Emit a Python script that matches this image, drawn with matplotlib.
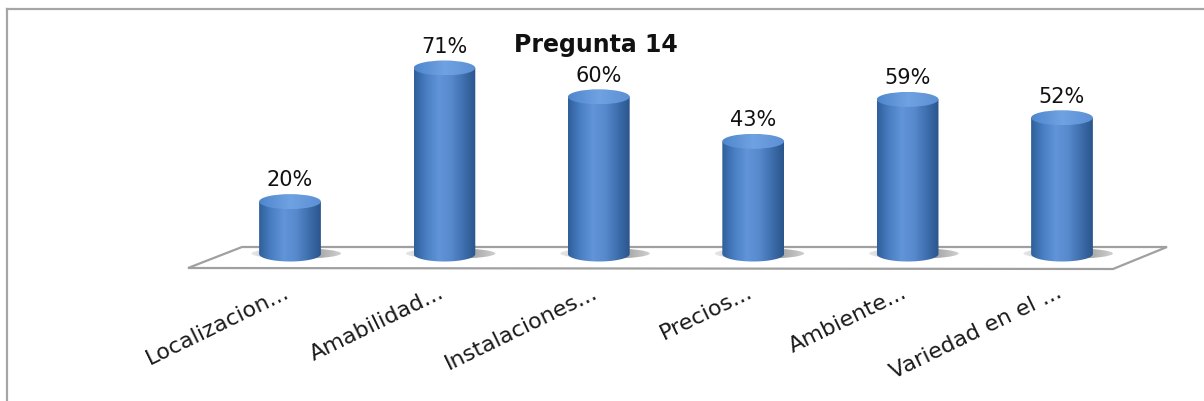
#!/usr/bin/env python3

import numpy as np
import matplotlib.pyplot as plt
from matplotlib.patches import Ellipse, Polygon
from matplotlib.lines import Line2D
from matplotlib.colors import LinearSegmentedColormap

categorias = ['Localizacion...', 'Amabilidad...', 'Instalaciones...',
              'Precios...', 'Ambiente...', 'Variedad en el ...']
valores = [20, 71, 60, 43, 59, 52]
titulo = 'Pregunta 14'

W, H = 1204, 402
fig = plt.figure(figsize=(W / 100, H / 100), dpi=100)

# ejes: centros de las barras en x ~ 290 + 154.4*i px, y=0 en 255 px
x0, dx = 290, 154.4
y0, py = 255, 2.62
ymax = 80
ymin = -8
left = (x0 - dx / 2) / W
width = 6 * dx / W
bottom = (H - y0 + ymin * py) / H
height = (ymax - ymin) * py / H
ax = fig.add_axes([left, bottom, width, height])
ax.axis('off')
ax.set_zorder(2)


def px(x, y):
    # pixeles (origen arriba-izquierda) a coordenadas de figura
    return (x / W, 1 - y / H)


# marco exterior (solo arriba e izquierda)
fig.add_artist(Line2D([7 / W, 1], [1 - 9.5 / H, 1 - 9.5 / H],
                      transform=fig.transFigure, color='#a6a6a6', lw=1.6))
fig.add_artist(Line2D([7 / W, 7 / W], [1 - 9.5 / H, 0],
                      transform=fig.transFigure, color='#a6a6a6', lw=1.6))

# piso en perspectiva
piso = Polygon([px(188, 269), px(242, 248), px(1167, 248), px(1113, 270)],
               closed=True, transform=fig.transFigure, facecolor='white',
               edgecolor='#a0a0a0', lw=1.6, zorder=1)
fig.add_artist(piso)

cmap_body = LinearSegmentedColormap.from_list(
    'cuerpo', ['#2f5f9a', '#4a7fc4', '#6194d8', '#5789cd', '#3f6fae', '#2a558c'])
cmap_top = LinearSegmentedColormap.from_list(
    'tapa', ['#4f86cc', '#6fa2e2', '#5c90d4'])
cmap_sombra = LinearSegmentedColormap.from_list(
    'sombra', ['#e6e6e6', '#c8c8c8', '#9a9a9a', '#d0d0d0'])

r = 0.20          # radio en unidades de x
eh = 15 / py      # alto de la elipse en unidades de y
grad = np.linspace(0, 1, 256).reshape(1, -1)

for i, v in enumerate(valores):
    # sombra en la base
    sombra = Ellipse((i + 0.04, 0.2), 2 * r * 1.45, eh * 0.7,
                     facecolor='none', edgecolor='none', zorder=2)
    ax.add_patch(sombra)
    ims = ax.imshow(grad, cmap=cmap_sombra, aspect='auto', zorder=2,
                    extent=(i - 1.45 * r + 0.04, i + 1.45 * r + 0.04, -eh, eh),
                    interpolation='bilinear')
    ims.set_clip_path(sombra)
    # cuerpo del cilindro
    t = np.linspace(np.pi, 2 * np.pi, 60)
    arco = np.column_stack([i + r * np.cos(t), eh / 2 * np.sin(t)])
    pts = np.vstack([[i - r, v], arco, [i + r, v]])
    cuerpo = Polygon(pts, closed=True, facecolor='none', edgecolor='none',
                     zorder=3)
    ax.add_patch(cuerpo)
    im = ax.imshow(grad, cmap=cmap_body, aspect='auto', zorder=3,
                   extent=(i - r, i + r, -eh, v + eh), interpolation='bilinear')
    im.set_clip_path(cuerpo)
    # tapa
    tapa = Ellipse((i, v), 2 * r, eh, facecolor='none', edgecolor='none',
                   zorder=4)
    ax.add_patch(tapa)
    im2 = ax.imshow(grad, cmap=cmap_top, aspect='auto', zorder=4,
                    extent=(i - r, i + r, v - eh / 2, v + eh / 2),
                    interpolation='bilinear')
    im2.set_clip_path(tapa)
    ax.text(i, v + eh / 2 + 1.8, f'{v}%', ha='center', va='bottom',
            fontsize=15, color='#111111', zorder=5)

ax.set_xlim(-0.5, 5.5)
ax.set_ylim(ymin, ymax)

for i, cat in enumerate(categorias):
    xf, yf = px(x0 + dx * i - 2, 291)
    fig.text(xf, yf, cat, rotation=26, rotation_mode='anchor',
             ha='right', va='center', fontsize=16, color='#1a1a1a')

fig.text(*px(596, 45), titulo, ha='center', va='center', fontsize=17,
         fontweight='bold', color='#111111')

fig.savefig('out.png', dpi=100)
